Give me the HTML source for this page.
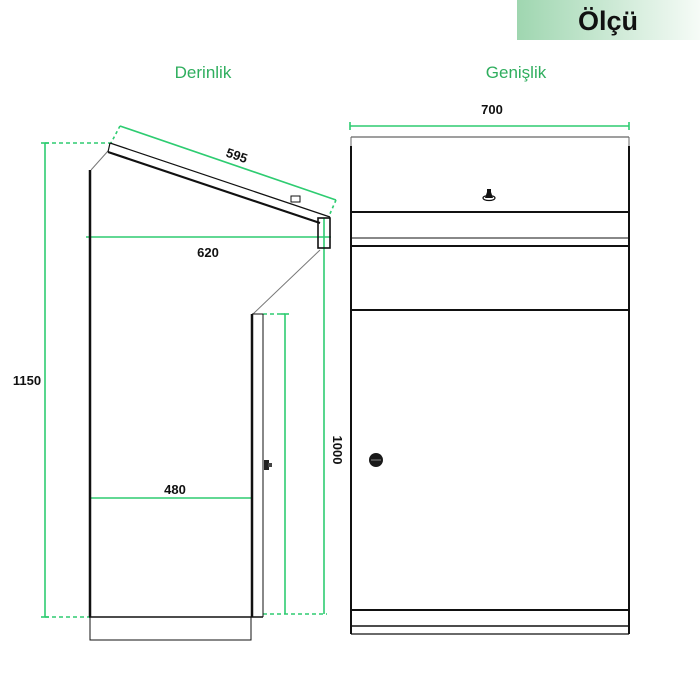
<!DOCTYPE html>
<html><head><meta charset="utf-8"><style>
body{margin:0;background:#fff}
svg{display:block;font-family:"Liberation Sans",sans-serif}
</style></head><body>
<svg width="700" height="700" viewBox="0 0 700 700" xmlns="http://www.w3.org/2000/svg">
<defs><linearGradient id="g" x1="0" x2="1"><stop offset="0" stop-color="#9fd6b0"/><stop offset="1" stop-color="#f6fbf7"/></linearGradient></defs>
<rect x="517" y="0" width="183" height="40" fill="url(#g)"/>
<text x="608" y="30" font-size="27" font-weight="bold" text-anchor="middle" fill="#111">Ölçü</text>
<text x="203" y="78" font-size="17" text-anchor="middle" fill="#2fae5e">Derinlik</text>
<text x="516" y="78" font-size="17" text-anchor="middle" fill="#2fae5e">Genişlik</text>

<g stroke="#2ecc71" stroke-width="1.6" fill="none">
<line x1="45" y1="143" x2="45" y2="617"/><line x1="41" y1="143" x2="49" y2="143"/><line x1="41" y1="617" x2="49" y2="617"/>
<line x1="45" y1="143" x2="110" y2="143" stroke-dasharray="4,3"/>
<line x1="45" y1="617" x2="90" y2="617" stroke-dasharray="4,3"/>
<line x1="120" y1="126" x2="336" y2="200"/>
<line x1="120" y1="126" x2="111" y2="143" stroke-dasharray="3,3"/>
<line x1="336" y1="200" x2="329" y2="216" stroke-dasharray="3,3"/>
<line x1="86" y1="237" x2="331" y2="237"/>
<line x1="324" y1="218" x2="324" y2="614"/>
<line x1="263" y1="314" x2="285" y2="314" stroke-dasharray="4,3"/>
<line x1="285" y1="314" x2="285" y2="614"/><line x1="281" y1="314" x2="289" y2="314"/>
<line x1="263" y1="614" x2="327" y2="614" stroke-dasharray="4,3"/>
<line x1="89" y1="498" x2="252" y2="498"/>
<line x1="350" y1="126" x2="629" y2="126"/><line x1="350" y1="122" x2="350" y2="130"/><line x1="629" y1="122" x2="629" y2="130"/>
</g>
<g font-size="13" font-weight="bold" fill="#111" text-anchor="middle">
<text x="27" y="385">1150</text>
<text x="237" y="160" transform="rotate(19 237 155)">595</text>
<text x="208" y="257">620</text>
<text x="175" y="494">480</text>
<text x="492" y="114">700</text>
<text x="333" y="450" transform="rotate(90 333 450)">1000</text>
</g>

<!-- side view -->
<g stroke="#111" fill="none">
<line x1="90" y1="170" x2="90" y2="617" stroke-width="2.5"/>
<line x1="91" y1="170" x2="108" y2="151" stroke="#777" stroke-width="1"/>
<line x1="110" y1="143" x2="330" y2="217" stroke-width="1.2"/>
<line x1="108" y1="152" x2="320" y2="223" stroke-width="2.2"/>
<line x1="110" y1="143" x2="108" y2="152" stroke-width="1.2"/>
<rect x="291" y="196" width="9" height="6" stroke-width="1"/>
<rect x="318" y="218" width="12" height="30" stroke-width="1.6"/>
<line x1="320" y1="250" x2="253" y2="314" stroke="#777" stroke-width="1"/>
<line x1="252" y1="314" x2="252" y2="617" stroke-width="2.5"/>
<line x1="263" y1="314" x2="263" y2="617" stroke-width="1"/>
<line x1="252" y1="314" x2="263" y2="314" stroke-width="1"/>
<line x1="89" y1="617" x2="263" y2="617" stroke-width="1.6"/>
<rect x="90" y="617" width="161" height="23" stroke-width="1"/>
</g>
<rect x="264" y="460" width="5" height="10" fill="#222"/><rect x="268" y="463" width="4" height="4" fill="#444"/>

<!-- front view -->
<g stroke="#111" fill="none">
<line x1="351" y1="137" x2="629" y2="137" stroke="#666" stroke-width="1.2"/>
<line x1="351" y1="146" x2="351" y2="634" stroke-width="2"/>
<line x1="629" y1="146" x2="629" y2="634" stroke-width="2"/>
<line x1="351" y1="137" x2="351" y2="146" stroke="#666"/>
<line x1="629" y1="137" x2="629" y2="146" stroke="#666"/>
<line x1="351" y1="212" x2="629" y2="212" stroke-width="2"/>
<line x1="351" y1="238" x2="629" y2="238" stroke-width="1"/>
<line x1="351" y1="246" x2="629" y2="246" stroke-width="2"/>
<line x1="351" y1="310" x2="629" y2="310" stroke-width="2"/>
<line x1="351" y1="610" x2="629" y2="610" stroke-width="2"/>
<line x1="351" y1="626" x2="629" y2="626" stroke-width="1.4"/>
<line x1="351" y1="634" x2="629" y2="634" stroke-width="1.2"/>
</g>
<ellipse cx="489" cy="198" rx="6" ry="2.5" fill="none" stroke="#111" stroke-width="1.2"/>
<path d="M485 198 L487 192 L487 189 L491 189 L491 192 L493 198 Z" fill="#111"/>
<circle cx="376" cy="460" r="7" fill="#1a1a1a"/><line x1="371" y1="460" x2="381" y2="460" stroke="#888" stroke-width="1"/>
</svg>
</body></html>
